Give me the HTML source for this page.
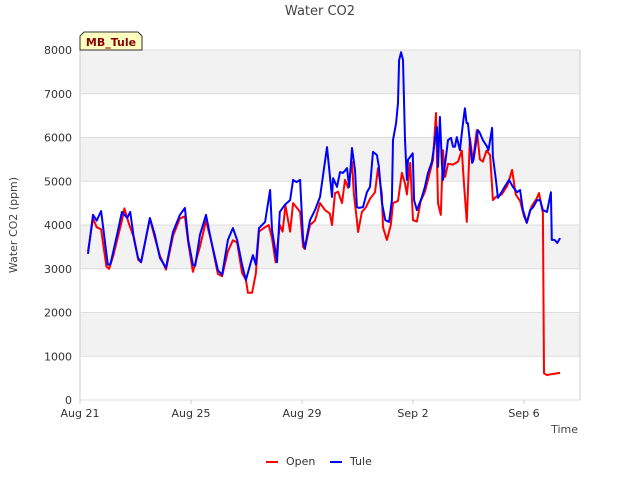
<!DOCTYPE html>
<html><head><meta charset="utf-8"><style>
body{margin:0;background:#fff;font-family:"Liberation Sans","DejaVu Sans",sans-serif}
svg text{font-family:"DejaVu Sans","Liberation Sans",sans-serif}
</style></head><body>
<svg id="c" width="640" height="480" viewBox="0 0 640 480" xmlns="http://www.w3.org/2000/svg">
<text x="320" y="15" text-anchor="middle" font-size="13" fill="#444">Water CO2</text>
<g id="bands"></g>
<rect x="80" y="50" width="500" height="350" fill="none" stroke="#ccc"/>
<g id="grid"></g><g id="axes"></g><g id="series"></g>
<text transform="translate(17,225) rotate(-90)" text-anchor="middle" font-size="11" fill="#444">Water CO2 (ppm)</text>
<text x="578" y="433" text-anchor="end" font-size="11" fill="#444">Time</text>
<g>
<path d="M80,50 L80,36 L84,32 L138,32 L142,36 L142,50 Z" fill="#ffffc0" stroke="#333"/>
<text x="111" y="46" text-anchor="middle" font-size="11" font-weight="bold" fill="#8b0000">MB_Tule</text></g>
<g>
<g><line x1="266" y1="462" x2="278" y2="462" stroke="#f00" stroke-width="2"/><text x="286" y="465" font-size="11" fill="#333">Open</text></g>
<g><line x1="330" y1="462" x2="342" y2="462" stroke="#00f" stroke-width="2"/><text x="350" y="465" font-size="11" fill="#333">Tule</text></g>
</g>
</svg>
<script>
const yTicks=[0,1000,2000,3000,4000,5000,6000,7000,8000];
const xTickDays=[0,4,8,12,16];
const xTickLabels=["Aug 21","Aug 25","Aug 29","Sep 2","Sep 6"];
const openDays=[0.29,0.47,0.6,0.76,0.95,1.05,1.2,1.51,1.6,1.75,1.95,2.1,2.2,2.52,2.7,2.88,3.1,3.35,3.6,3.78,3.9,4.07,4.32,4.54,4.72,4.97,5.12,5.33,5.51,5.66,5.84,5.98,6.05,6.2,6.34,6.45,6.67,6.8,6.92,7.05,7.2,7.3,7.4,7.57,7.68,7.93,8.04,8.1,8.29,8.47,8.65,8.83,9.0,9.08,9.19,9.3,9.44,9.55,9.66,9.8,9.87,9.98,10.02,10.16,10.3,10.45,10.63,10.74,10.88,10.92,11.06,11.2,11.28,11.46,11.6,11.71,11.78,11.9,12.0,12.14,12.28,12.43,12.54,12.72,12.83,12.9,13.0,13.08,13.16,13.26,13.44,13.62,13.76,13.84,13.94,14.05,14.16,14.3,14.41,14.52,14.65,14.78,14.88,15.0,15.2,15.4,15.57,15.7,15.86,16.0,16.1,16.27,16.45,16.54,16.64,16.68,16.72,16.83,16.97,17.3];
const openValues=[3400,4150,3950,3900,3050,3000,3300,4100,4380,4050,3700,3200,3150,4150,3700,3300,2980,3750,4150,4200,3600,2930,3500,4100,3650,2880,2830,3400,3650,3600,2900,2750,2450,2450,2900,3850,3950,4000,3700,3150,4000,3850,4450,3850,4500,4300,3500,3450,4000,4100,4500,4340,4260,4000,4730,4760,4500,5030,4850,5440,4700,4110,3840,4300,4400,4600,4750,5300,4700,3950,3660,4000,4500,4550,5190,4950,4700,5420,4110,4080,4550,4760,5030,5490,6560,4500,4230,5710,5100,5400,5380,5450,5700,4900,4070,5990,5450,6170,5500,5450,5700,5600,4570,4650,4700,4900,5260,4700,4550,4200,4050,4420,4600,4730,4400,4280,610,570,590,620];
const tuleDays=[0.29,0.47,0.6,0.76,1.0,1.1,1.35,1.51,1.7,1.81,1.95,2.09,2.2,2.52,2.7,2.88,3.1,3.35,3.6,3.78,3.9,4.07,4.15,4.32,4.54,4.72,4.97,5.12,5.33,5.51,5.66,5.84,5.98,6.13,6.23,6.34,6.45,6.67,6.85,6.92,7.1,7.2,7.38,7.57,7.68,7.8,7.93,8.04,8.1,8.29,8.47,8.65,8.9,9.08,9.12,9.26,9.37,9.48,9.62,9.7,9.8,9.91,9.98,10.05,10.2,10.34,10.45,10.56,10.7,10.77,10.88,11.0,11.14,11.24,11.28,11.39,11.46,11.5,11.57,11.64,11.71,11.78,11.82,11.9,11.99,12.04,12.14,12.32,12.43,12.54,12.68,12.79,12.86,12.9,12.97,13.04,13.08,13.19,13.26,13.37,13.44,13.51,13.58,13.69,13.8,13.87,13.93,13.98,14.13,14.18,14.23,14.34,14.41,14.52,14.67,14.72,14.85,14.88,15.0,15.06,15.2,15.3,15.46,15.6,15.75,15.86,15.96,16.1,16.22,16.33,16.47,16.58,16.68,16.83,16.97,17.0,17.1,17.2,17.3];
const tuleValues=[3340,4230,4100,4320,3090,3110,3820,4300,4160,4300,3660,3250,3150,4160,3770,3250,3020,3840,4230,4390,3660,3090,3070,3770,4230,3660,2970,2860,3660,3930,3660,3090,2740,3090,3310,3090,3930,4070,4800,3890,3150,4300,4460,4570,5030,4980,5030,3660,3470,4110,4340,4640,5780,4640,5070,4870,5210,5190,5300,4870,5760,5260,4410,4390,4410,4750,4870,5670,5600,5330,4510,4110,4070,4570,5940,6330,6790,7770,7950,7770,5940,5030,5490,5560,5640,4570,4340,4640,4870,5190,5440,5940,6240,5330,6470,5420,5030,5560,5940,5990,5790,5790,6010,5710,6330,6670,6330,6330,5420,5490,5710,6170,6100,5940,5790,5710,6220,5560,4960,4620,4760,4870,5030,4870,4750,4800,4340,4050,4340,4410,4570,4570,4340,4300,4750,3660,3660,3590,3700];
const NS="http://www.w3.org/2000/svg";
const X=d=>80+d*27.75, Y=v=>400-v*0.04375;
function mk(t,a,p){const e=document.createElementNS(NS,t);for(const k in a)e.setAttribute(k,a[k]);p.appendChild(e);return e;}
const bands=document.getElementById('bands'),grid=document.getElementById('grid'),axes=document.getElementById('axes'),ser=document.getElementById('series');
for(let i=1;i<yTicks.length;i+=2){const b=mk('rect',{x:80,y:Y(yTicks[i+1]!==undefined?yTicks[i+1]:yTicks[i]),width:500,height:Y(yTicks[i])-Y(yTicks[i+1]!==undefined?yTicks[i+1]:yTicks[i]),fill:'#f2f2f2'},bands);

}
yTicks.forEach(v=>{const l=mk('line',{x1:80,x2:580,y1:Y(v),y2:Y(v),stroke:'#ddd'},grid);


const t=mk('text',{x:72,y:Y(v)+4,'text-anchor':'end','font-size':11,fill:'#333'},axes);t.textContent=v;

});
xTickDays.forEach((d,i)=>{mk('line',{x1:X(d),x2:X(d),y1:400,y2:404,stroke:'#ccc'},axes);
const t=mk('text',{x:X(d),y:417,'text-anchor':'middle','font-size':11,fill:'#333'},axes);t.textContent=xTickLabels[i];

});
function line(ds,vs,c,n){const p=mk('polyline',{points:ds.map((d,i)=>X(d).toFixed(1)+','+Y(vs[i]).toFixed(1)).join(' '),fill:'none',stroke:c,'stroke-width':2,'stroke-linejoin':'round'},ser);

}
line(openDays,openValues,'#f00','series-open');
line(tuleDays,tuleValues,'#00f','series-tule');
</script>
</body></html>
